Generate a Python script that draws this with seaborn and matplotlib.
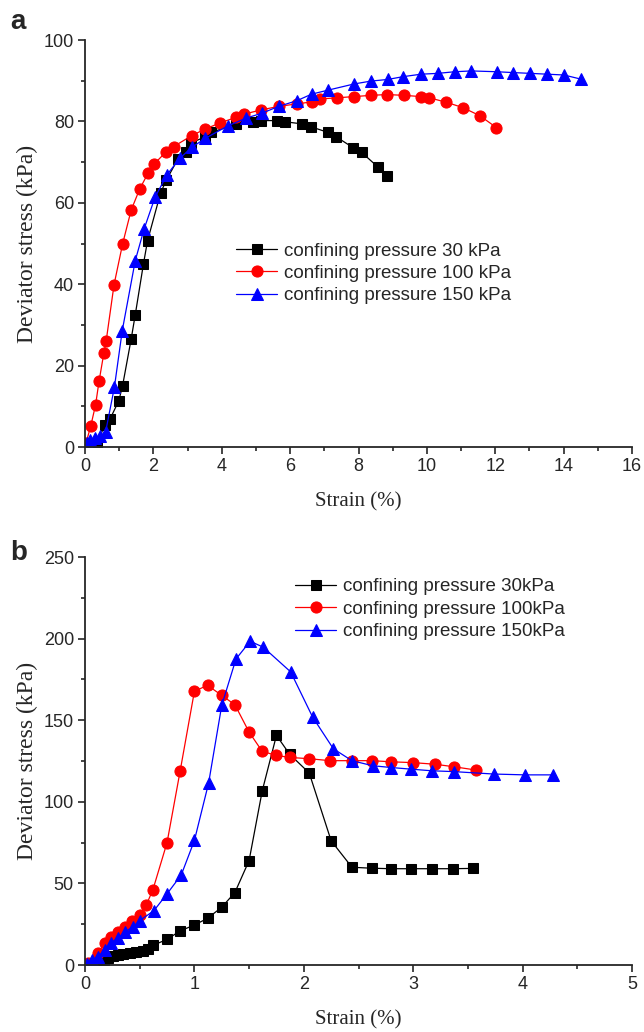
import matplotlib
matplotlib.use("Agg")
import matplotlib.pyplot as plt
from matplotlib.ticker import MultipleLocator
import seaborn as sns
import pandas as pd

# ---------------- Panel a data ----------------
a_labels = ["confining pressure 30 kPa", "confining pressure 100 kPa", "confining pressure 150 kPa"]
a30_strain = [0.05, 0.34, 0.58, 0.74, 0.99, 1.10, 1.35, 1.47, 1.71, 1.83, 2.21, 2.38, 2.72, 2.95, 3.10,
              3.51, 3.70, 4.42, 4.90, 5.14, 5.62, 5.86, 6.34, 6.60, 7.11, 7.35, 7.85, 8.09, 8.58, 8.82]
a30_stress = [0.3, 0.7, 5.4, 7.0, 11.4, 15.1, 26.5, 32.5, 45.0, 50.7, 62.4, 65.6, 70.8, 72.6, 74.7,
              76.2, 77.3, 79.4, 79.9, 80.2, 80.2, 79.9, 79.4, 78.7, 77.3, 76.2, 73.5, 72.4, 68.7, 66.7]
a100_strain = [0.03, 0.17, 0.31, 0.41, 0.55, 0.62, 0.85, 1.10, 1.35, 1.60, 1.84, 2.02, 2.38, 2.59, 3.12,
               3.51, 3.94, 4.42, 4.66, 5.14, 5.67, 6.20, 6.63, 6.87, 7.37, 7.88, 8.36, 8.84, 9.32, 9.83,
               10.07, 10.57, 11.05, 11.55, 12.03]
a100_stress = [1.0, 5.2, 10.4, 16.1, 23.0, 26.1, 39.9, 49.9, 58.2, 63.4, 67.2, 69.5, 72.6, 73.8, 76.5,
               78.1, 79.6, 81.0, 81.8, 82.8, 83.7, 84.3, 84.8, 85.5, 85.8, 86.1, 86.4, 86.6, 86.4, 86.1,
               85.8, 84.7, 83.4, 81.4, 78.5]
a150_strain = [0.05, 0.15, 0.30, 0.45, 0.60, 0.86, 1.09, 1.47, 1.73, 2.05, 2.40, 2.77, 3.12, 3.51, 4.18,
               4.71, 5.17, 5.67, 6.20, 6.63, 7.12, 7.87, 8.36, 8.85, 9.31, 9.83, 10.32, 10.81, 11.30,
               12.05, 12.51, 13.03, 13.52, 14.01, 14.50]
a150_stress = [1.0, 1.8, 2.3, 2.6, 3.6, 14.7, 28.6, 45.8, 53.6, 61.4, 66.9, 70.9, 73.6, 75.8, 78.9,
               80.8, 82.0, 83.7, 85.1, 86.7, 87.7, 89.2, 89.9, 90.3, 91.0, 91.6, 91.8, 92.2, 92.4,
               92.2, 92.0, 91.8, 91.6, 91.4, 90.4]

# ---------------- Panel b data ----------------
b_labels = ["confining pressure 30kPa", "confining pressure 100kPa", "confining pressure 150kPa"]
b30_strain = [0.05, 0.13, 0.17, 0.21, 0.26, 0.30, 0.35, 0.41, 0.47, 0.53, 0.58, 0.62, 0.75, 0.87, 1.00,
              1.12, 1.25, 1.37, 1.50, 1.62, 1.75, 1.87, 2.05, 2.25, 2.44, 2.62, 2.80, 2.98, 3.17, 3.36, 3.55]
b30_stress = [0.5, 1.5, 3.1, 4.5, 5.5, 6.3, 7.0, 7.6, 8.2, 8.8, 9.8, 12.0, 15.7, 20.9, 24.5,
              28.6, 35.4, 44.4, 64.0, 106.7, 140.7, 129.2, 117.6, 76.1, 59.9, 59.3, 59.0, 59.0, 59.0, 59.0, 59.2]
b100_strain = [0.03, 0.12, 0.18, 0.24, 0.30, 0.37, 0.43, 0.50, 0.56, 0.62, 0.75, 0.87, 1.00, 1.12, 1.25,
               1.37, 1.50, 1.62, 1.75, 1.87, 2.05, 2.24, 2.44, 2.62, 2.80, 3.00, 3.20, 3.37, 3.57]
b100_stress = [1.5, 7.2, 13.7, 17.4, 20.4, 23.1, 27.2, 30.7, 36.8, 46.0, 75.0, 119.0, 167.7, 171.4, 165.2,
               159.5, 142.7, 130.9, 128.4, 127.2, 126.4, 125.2, 125.2, 125.2, 124.5, 124.0, 123.0, 121.5, 119.5]
b150_strain = [0.02, 0.06, 0.12, 0.18, 0.24, 0.30, 0.37, 0.44, 0.50, 0.63, 0.75, 0.88, 1.00, 1.13, 1.25,
               1.38, 1.51, 1.63, 1.88, 2.08, 2.27, 2.44, 2.63, 2.80, 2.98, 3.17, 3.37, 3.74, 4.02, 4.28]
b150_stress = [0.5, 3.1, 5.1, 9.2, 13.7, 16.4, 20.4, 23.5, 27.2, 33.3, 43.6, 55.2, 76.3, 111.5, 159.1,
               187.5, 198.4, 194.7, 179.6, 152.0, 132.5, 125.2, 122.1, 121.0, 120.0, 119.0, 118.5, 117.0, 116.5, 116.5]

colors = ["black", "#ff0000", "#0000ff"]
markers = ["s", "o", "^"]
msizes = [6.5, 8, 8]

sns.set_style("ticks")
plt.rcParams["font.family"] = ["Liberation Sans", "DejaVu Sans"]
plt.rcParams["axes.linewidth"] = 1.3

fig = plt.figure(figsize=(6.44, 10.32), dpi=100)
ax_a = fig.add_axes([85 / 644, 1 - 447 / 1032, 547 / 644, 407 / 1032])
ax_b = fig.add_axes([85 / 644, 1 - 965 / 1032, 547 / 644, 408 / 1032])


def draw(ax, series, labels):
    for (xs, ys), lab, c, m, ms in zip(series, labels, colors, markers, msizes):
        df = pd.DataFrame({"x": xs, "y": ys})
        sns.lineplot(data=df, x="x", y="y", ax=ax, sort=False, estimator=None,
                     color=c, marker=m, markersize=ms, markeredgecolor=c,
                     linewidth=0.9, label=lab)


draw(ax_a, [(a30_strain, a30_stress), (a100_strain, a100_stress), (a150_strain, a150_stress)], a_labels)
draw(ax_b, [(b30_strain, b30_stress), (b100_strain, b100_stress), (b150_strain, b150_stress)], b_labels)

ax_a.set_xlim(0, 16)
ax_a.set_ylim(0, 100)
ax_a.xaxis.set_major_locator(MultipleLocator(2))
ax_a.xaxis.set_minor_locator(MultipleLocator(1))
ax_a.yaxis.set_major_locator(MultipleLocator(20))
ax_a.yaxis.set_minor_locator(MultipleLocator(10))

ax_b.set_xlim(0, 5)
ax_b.set_ylim(0, 250)
ax_b.xaxis.set_major_locator(MultipleLocator(1))
ax_b.xaxis.set_minor_locator(MultipleLocator(0.5))
ax_b.yaxis.set_major_locator(MultipleLocator(50))
ax_b.yaxis.set_minor_locator(MultipleLocator(25))

for ax in (ax_a, ax_b):
    sns.despine(ax=ax)
    ax.tick_params(axis="both", which="major", direction="out", length=5, width=1.2,
                   labelsize=13, pad=3)
    ax.tick_params(axis="both", which="minor", direction="out", length=3, width=1.2)
    ax.set_xlabel("Strain (%)", family=["Liberation Serif", "DejaVu Serif"], fontsize=15, labelpad=12)
    ax.set_ylabel("Deviator stress (kPa)", family=["Liberation Serif", "DejaVu Serif"], fontsize=17,
                  labelpad=4)
    for sp in ("left", "bottom"):
        ax.spines[sp].set_linewidth(1.3)

leg_kw = dict(frameon=False, fontsize=13.5, handlelength=2.2, handletextpad=0.37,
              labelspacing=0.28, borderpad=0.2)
ax_a.legend(loc="upper left", bbox_to_anchor=(0.252, 0.535), **leg_kw)
ax_b.legend(loc="upper left", bbox_to_anchor=(0.36, 0.98), **leg_kw)

fig.text(10 / 644, 1 - 22 / 1032, "a", fontsize=20, fontweight="bold", va="center", ha="left")
fig.text(10 / 644, 1 - 553 / 1032, "b", fontsize=20, fontweight="bold", va="center", ha="left")

fig.savefig("out.png", dpi=100)
